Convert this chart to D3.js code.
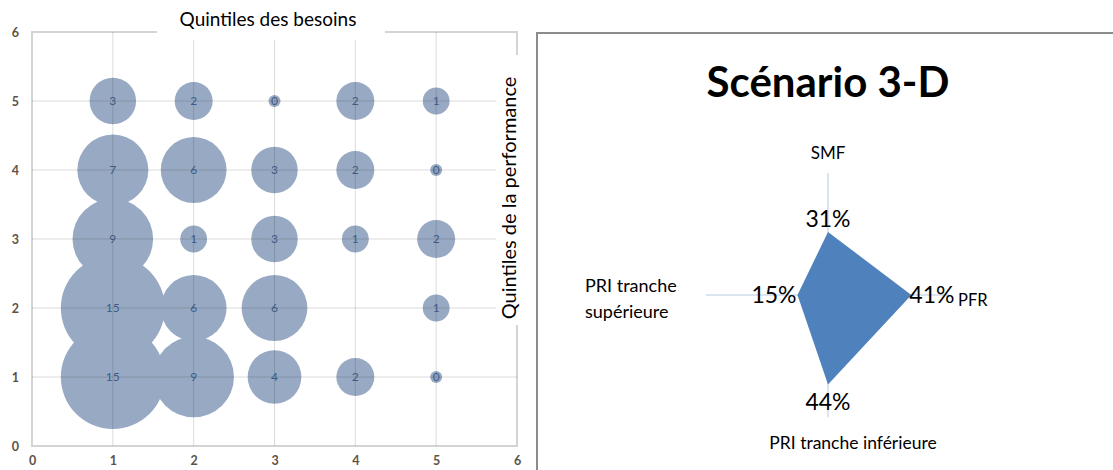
<!DOCTYPE html>
<html>
<head>
<meta charset="utf-8">
<script src="https://cdn.jsdelivr.net/npm/d3@7"></script>
<style>
  body { margin: 0; background: #fff; }
  svg { display: block; font-family: Lato, "Open Sans", sans-serif; }
</style>
</head>
<body>
<svg id="chart" width="1113" height="470"></svg>
<script>
// bubble chart data: one row per performance quintile, one value per needs quintile
const needQuintiles = [1, 2, 3, 4, 5];
const perfRows = [5, 4, 3, 2, 1];
const countsByRow = [
    [3, 2, 0, 2, 1],
    [7, 6, 3, 2, 0],
    [9, 1, 3, 1, 2],
    [15, 6, 6, null, 1],
    [15, 9, 4, 2, 0]
];
const axisTicks = [0, 1, 2, 3, 4, 5, 6];

// radar data
const radarCategories = ['SMF', 'PFR', 'PRI tranche inférieure', 'PRI tranche supérieure'];
const radarValues = [0.31, 0.41, 0.44, 0.15];

const svg = d3.select('#chart');

// ---------- left : bubble chart ----------
const x = d3.scaleLinear().domain([0, 6]).range([32, 517]);
const y = d3.scaleLinear().domain([0, 6]).range([446, 32]);
const r = d3.scaleSqrt().domain([0, 15]).range([0, 52]);

let bubbles = [];
perfRows.forEach((p, i) => {
    needQuintiles.forEach((n, j) => {
        const v = countsByRow[i][j];
        if (v !== null) bubbles.push({ need: n, perf: p, count: v });
    });
});

const left = svg.append('g');

// plot border
left.append('rect')
    .attr('x', x(0)).attr('y', y(6))
    .attr('width', x(6) - x(0)).attr('height', y(0) - y(6))
    .attr('fill', 'none')
    .attr('stroke', '#d4d4d4')
    .attr('stroke-width', 2);

// bubbles (larger first)
left.selectAll('circle.bubble')
    .data(bubbles.slice().sort((a, b) => b.count - a.count))
    .enter()
    .append('circle')
    .attr('class', 'bubble')
    .attr('cx', d => x(d.need))
    .attr('cy', d => y(d.perf))
    .attr('r', d => Math.max(r(d.count), 6))
    .attr('fill', '#98aac3');

// gridlines over the bubbles, faint
left.selectAll('line.vgrid')
    .data(axisTicks.slice(1, -1))
    .enter()
    .append('line')
    .attr('x1', d => x(d)).attr('x2', d => x(d))
    .attr('y1', y(6)).attr('y2', y(0))
    .attr('stroke', 'rgba(0,0,0,0.14)');

left.selectAll('line.hgrid')
    .data(axisTicks.slice(1, -1))
    .enter()
    .append('line')
    .attr('y1', d => y(d)).attr('y2', d => y(d))
    .attr('x1', x(0)).attr('x2', x(6))
    .attr('stroke', 'rgba(0,0,0,0.14)');

// bubble labels
left.selectAll('text.blabel')
    .data(bubbles)
    .enter()
    .append('text')
    .attr('x', d => x(d.need))
    .attr('y', d => y(d.perf))
    .attr('dy', '0.35em')
    .attr('text-anchor', 'middle')
    .attr('font-size', 12)
    .attr('fill', '#3d5a85')
    .text(d => d.count);

// axes
const yAxis = d3.axisLeft(y).tickValues(axisTicks).tickSize(0).tickPadding(13).tickFormat(d3.format('d'));
const xAxis = d3.axisBottom(x).tickValues(axisTicks).tickSize(0).tickPadding(10).tickFormat(d3.format('d'));

const gy = left.append('g').attr('transform', `translate(${x(0)},0)`).call(yAxis);
const gx = left.append('g').attr('transform', `translate(0,${y(0)})`).call(xAxis);
[gy, gx].forEach(g => {
    g.select('.domain').remove();
    g.selectAll('text')
        .attr('font-family', 'Lato, sans-serif')
        .attr('font-size', 12.5)
        .attr('font-weight', 'bold')
        .attr('fill', '#5c5248');
});

// titles with white backgrounds
left.append('rect')
    .attr('x', 157).attr('y', 8).attr('width', 228).attr('height', 32)
    .attr('fill', '#fff');
left.append('text')
    .attr('x', 268).attr('y', 26)
    .attr('text-anchor', 'middle')
    .attr('font-size', 19)
    .attr('fill', '#000')
    .text('Quintiles des besoins');

left.append('rect')
    .attr('x', 496).attr('y', 55).attr('width', 26).attr('height', 270)
    .attr('fill', '#fff');
left.append('text')
    .attr('transform', 'translate(516,198) rotate(-90)')
    .attr('text-anchor', 'middle')
    .attr('font-size', 20)
    .attr('fill', '#000')
    .text('Quintiles de la performance');

// ---------- right : radar ----------
const right = svg.append('g');

right.append('rect')
    .attr('x', 537).attr('y', 33)
    .attr('width', 600).attr('height', 460)
    .attr('fill', '#fff')
    .attr('stroke', '#8c8c8c')
    .attr('stroke-width', 2);

right.append('text')
    .attr('x', 828).attr('y', 97)
    .attr('text-anchor', 'middle')
    .attr('font-size', 42)
    .attr('font-weight', 'bold')
    .attr('fill', '#000')
    .text('Scénario 3-D');

const cx = 828, cy = 295;
const rad = d3.scaleLinear().domain([0, 0.6]).range([0, 122]);
const angle = i => i * Math.PI / 2;   // 0 = up, clockwise
const pt = (i, v) => [cx + rad(v) * Math.sin(angle(i)), cy - rad(v) * Math.cos(angle(i))];

// spokes
right.selectAll('line.spoke')
    .data(radarCategories)
    .enter()
    .append('line')
    .attr('x1', cx).attr('y1', cy)
    .attr('x2', (d, i) => pt(i, 0.6)[0])
    .attr('y2', (d, i) => pt(i, 0.6)[1])
    .attr('stroke', '#dbe5f1')
    .attr('stroke-width', 2);

right.append('path')
    .attr('d', d3.line()(radarValues.map((v, i) => pt(i, v))) + 'Z')
    .attr('fill', '#4f81bd');

// value labels
const valAnchor = ['middle', 'start', 'middle', 'end'];
const valOffset = [[0, -5], [-2, 8], [0, 26], [-1, 8]];
right.selectAll('text.val')
    .data(radarValues)
    .enter()
    .append('text')
    .attr('x', (d, i) => pt(i, d)[0] + valOffset[i][0])
    .attr('y', (d, i) => pt(i, d)[1] + valOffset[i][1])
    .attr('text-anchor', (d, i) => valAnchor[i])
    .attr('font-size', 23)
    .attr('fill', '#000')
    .text(d => d3.format('.0%')(d));

// category labels
right.append('text').attr('x', 828).attr('y', 159).attr('text-anchor', 'middle')
    .attr('font-size', 17).text(radarCategories[0]);
right.append('text').attr('x', 958).attr('y', 306).attr('text-anchor', 'start')
    .attr('font-size', 16.5).text(radarCategories[1]);
right.append('text').attr('x', 853).attr('y', 449).attr('text-anchor', 'middle')
    .attr('font-size', 17.5).text(radarCategories[2]);
const sup = right.append('text').attr('x', 585).attr('y', 292).attr('font-size', 18);
sup.append('tspan').attr('x', 585).text('PRI tranche');
sup.append('tspan').attr('x', 585).attr('dy', 26).text('supérieure');
</script>
</body>
</html>
